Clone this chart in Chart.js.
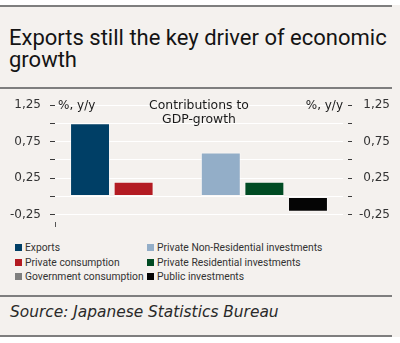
<!DOCTYPE html>
<html>
<head>
<meta charset="utf-8">
<script src="https://cdn.jsdelivr.net/npm/chart.js@4"></script>
<style>
  html, body { margin: 0; padding: 0; background: #ffffff; }
  body { width: 400px; height: 343px; position: relative; overflow: hidden; font-family: Roboto, "Noto Sans", sans-serif; }
  #panel { position: absolute; left: 0; top: 5px; width: 400px; height: 332px; background: #f4f1ee; }
  .rule { position: absolute; left: 0; width: 392px; height: 2px; background: #7e7e7e; }
  #title { position: absolute; left: 9px; top: 26.5px; font-size: 22px; line-height: 22.5px; color: #141414; white-space: nowrap; }
  #chartBox { position: absolute; left: 0; top: 90px; width: 400px; height: 146px; }
  #legend { position: absolute; left: 15px; top: 240.5px; display: grid; grid-auto-flow: column;
            grid-template-rows: repeat(3, 14.5px); grid-template-columns: 132px auto;
            font-size: 10.3px; color: #333; }
  .item { display: flex; align-items: center; white-space: nowrap; }
  .swatch { width: 7px; height: 7px; margin-right: 3px; flex: none; }
  #source { position: absolute; left: 10px; top: 303.4px; font-family: "DejaVu Sans", sans-serif; font-size: 15.4px;
            line-height: normal; font-style: italic; color: #2a2a2a; white-space: nowrap; }
</style>
</head>
<body>
<div id="panel"></div>
<div class="rule" style="top:5px"></div>
<div id="title">Exports still the key driver of economic<br>growth</div>
<div class="rule" style="top:87px"></div>
<div id="chartBox"><canvas id="chart"></canvas></div>
<div id="legend"></div>
<div class="rule" style="top:295px"></div>
<div id="source">Source: Japanese Statistics Bureau</div>
<div class="rule" style="top:335px"></div>

<script>
// Contributions to GDP growth, %, y/y
const categories = [''];
const seriesNames = [
  'Exports',
  'Private consumption',
  'Government consumption',
  'Private Non-Residential investments',
  'Private Residential investments',
  'Public investments'
];
const seriesColors = ['#003f66', '#b31b22', '#7f7f7f', '#93aec8', '#004b23', '#050505'];

const exportsValues = [1.00];
const privateConsumption = [0.20];
const governmentConsumption = [0.00];
const privateNonResidential = [0.60];
const privateResidential = [0.20];
const publicInvestments = [-0.21];

const yTickValues = [-0.25, 0, 0.25, 0.5, 0.75, 1, 1.25];
const yTickLabels = ['-0,25', '', '0,25', '', '0,75', '', '1,25'];

const seriesValues = [exportsValues, privateConsumption, governmentConsumption,
                      privateNonResidential, privateResidential, publicInvestments];

// legend, laid out column by column
const legendEl = document.getElementById('legend');
seriesNames.forEach((name, i) => {
  const item = document.createElement('div');
  item.className = 'item';
  const sw = document.createElement('span');
  sw.className = 'swatch';
  sw.style.background = seriesColors[i];
  const tx = document.createElement('span');
  tx.textContent = name;
  item.appendChild(sw);
  item.appendChild(tx);
  legendEl.appendChild(item);
});

const fixedTicks = (scale) => {
  scale.ticks = yTickValues.map(v => ({ value: v }));
};
const tickLabel = (value) => {
  const i = yTickValues.findIndex(v => Math.abs(v - value) < 1e-9);
  return i >= 0 ? yTickLabels[i] : '';
};

// axis units and chart caption drawn inside the plot
const captions = {
  id: 'captions',
  afterDatasetsDraw(chart) {
    const { ctx, chartArea } = chart;
    const yTop = chart.scales.y.getPixelForValue(1.25);
    ctx.save();
    ctx.fillStyle = '#1a1a1a';
    ctx.font = '12px "DejaVu Sans"';
    ctx.textBaseline = 'middle';
    ctx.textAlign = 'left';
    ctx.fillText('%, y/y', chartArea.left + 3, yTop + 1);
    ctx.textAlign = 'right';
    ctx.fillText('%, y/y', chartArea.right, yTop + 1);
    ctx.font = '12.4px "DejaVu Sans"';
    ctx.textAlign = 'center';
    ctx.textBaseline = 'alphabetic';
    const cx = (chartArea.left + chartArea.right) / 2;
    ctx.fillText('Contributions to', cx, chartArea.top + 3.5);
    ctx.fillText('GDP-growth', cx, chartArea.top + 17.7);
    ctx.restore();
  }
};

new Chart(document.getElementById('chart'), {
  type: 'bar',
  data: {
    labels: categories,
    datasets: seriesNames.map((name, i) => ({
      label: name,
      data: seriesValues[i],
      backgroundColor: seriesColors[i],
      borderColor: 'rgba(255,255,255,0.45)',
      borderWidth: 1,
      borderSkipped: false,
      categoryPercentage: 0.908,
      barPercentage: 0.917
    }))
  },
  options: {
    responsive: true,
    maintainAspectRatio: false,
    animation: false,
    layout: { padding: { left: 0, right: 10, top: 15, bottom: 9 } },
    plugins: { legend: { display: false }, tooltip: { enabled: false } },
    scales: {
      x: {
        offset: true,
        ticks: { display: false },
        border: { display: false },
        grid: {
          drawOnChartArea: false,
          drawTicks: true,
          tickLength: 5,
          tickColor: (c) => c.index === 0 ? '#555555' : 'rgba(0,0,0,0)',
          tickWidth: 1
        }
      },
      y: {
        position: 'left',
        min: -0.35,
        max: 1.25,
        afterBuildTicks: fixedTicks,
        afterFit: (s) => { s.width = 55; },
        border: { display: false },
        grid: {
          color: '#ffffff',
          lineWidth: 1,
          tickLength: 10,
          tickColor: '#3a3a3a',
          tickWidth: 1.2,
          tickBorderDash: [0, 5, 5, 40]
        },
        ticks: {
          callback: tickLabel,
          font: { family: 'DejaVu Sans', size: 12 },
          color: '#333333',
          padding: 4,
          autoSkip: false
        }
      },
      y2: {
        position: 'right',
        min: -0.35,
        max: 1.25,
        afterBuildTicks: fixedTicks,
        afterFit: (s) => { s.width = 47; },
        border: { display: false },
        grid: {
          drawOnChartArea: false,
          tickLength: 9,
          tickColor: '#3a3a3a',
          tickWidth: 1.2,
          tickBorderDash: [0, 5, 4, 40]
        },
        ticks: {
          callback: tickLabel,
          crossAlign: 'far',
          font: { family: 'DejaVu Sans', size: 12 },
          color: '#333333',
          padding: 4,
          autoSkip: false
        }
      }
    }
  },
  plugins: [captions]
});
</script>
</body>
</html>
